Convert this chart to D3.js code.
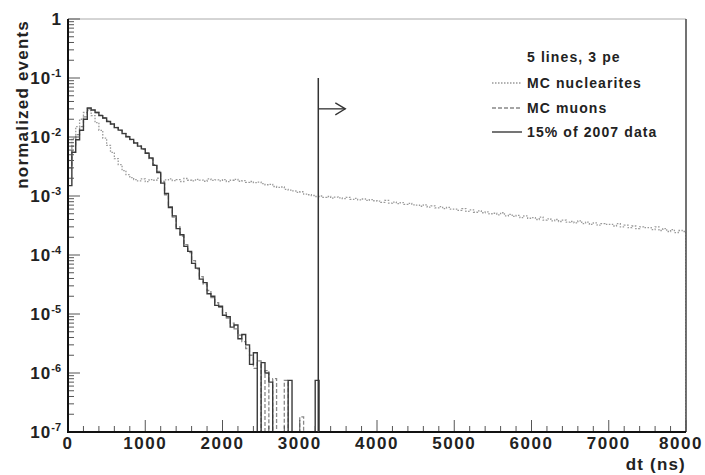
<!DOCTYPE html>
<html lang="en">
  <head>
    <meta charset="utf-8">
    <title>dt distribution</title>
    <script src="https://d3js.org/d3.v7.min.js"></script>
    <style>
      body { margin: 0; background: #fff; }
      text { font-family: "Liberation Sans", Arial, sans-serif; fill: #222; }
    </style>
  </head>
  <body>
    <script type="text/javascript">
    // histogram binning (ns)
    var binWidth = 50;
    var xDomain = [0, 8000];
    var yDomain = [1e-7, 1];

    // MC nuclearites, 160 bins of 50 ns
    var nuclearites = [
      4.0e-3, 9.5e-3, 1.5e-2, 2.0e-2, 2.6e-2, 2.8e-2, 2.3e-2, 1.75e-2, 1.3e-2, 9.6e-3,
      7.2e-3, 5.5e-3, 4.3e-3, 3.4e-3, 2.7e-3, 2.3e-3, 2.05e-3, 1.9e-3,
      1.80e-3, 1.95e-3, 1.75e-3, 1.90e-3, 1.85e-3, 2.00e-3, 1.78e-3, 1.88e-3, 1.95e-3, 1.82e-3,
      1.90e-3, 1.76e-3, 1.98e-3, 1.85e-3, 1.80e-3, 1.92e-3, 1.86e-3, 1.78e-3, 1.95e-3, 1.84e-3,
      1.88e-3, 1.80e-3, 1.90e-3, 1.75e-3, 1.85e-3, 1.92e-3, 1.78e-3, 1.82e-3, 1.70e-3, 1.76e-3,
      1.68e-3, 1.72e-3,
      1.62e-3, 1.55e-3, 1.58e-3, 1.45e-3, 1.40e-3, 1.42e-3, 1.30e-3, 1.26e-3, 1.22e-3, 1.15e-3,
      1.18e-3, 1.08e-3, 1.05e-3, 1.02e-3, 0.98e-3,
      1.00e-3, 0.95e-3, 0.98e-3, 0.92e-3, 0.96e-3,
      9.3e-4, 9.0e-4, 9.5e-4, 8.8e-4, 9.1e-4, 8.6e-4, 8.9e-4, 8.4e-4, 8.7e-4, 8.3e-4,
      8.2e-4, 7.8e-4, 8.4e-4, 7.6e-4, 7.9e-4, 7.4e-4, 7.7e-4, 7.2e-4, 7.5e-4, 7.1e-4,
      7.0e-4, 6.7e-4, 7.1e-4, 6.5e-4, 6.8e-4, 6.3e-4, 6.6e-4, 6.1e-4, 6.4e-4, 6.0e-4,
      6.0e-4, 5.7e-4, 6.1e-4, 5.5e-4, 5.8e-4, 5.3e-4, 5.6e-4, 5.2e-4, 5.4e-4, 5.0e-4,
      5.1e-4, 4.8e-4, 5.2e-4, 4.6e-4, 4.9e-4, 4.5e-4, 4.7e-4, 4.3e-4, 4.6e-4, 4.2e-4,
      4.3e-4, 4.0e-4, 4.4e-4, 3.9e-4, 4.1e-4, 3.8e-4, 4.0e-4, 3.7e-4, 3.9e-4, 3.6e-4,
      3.7e-4, 3.5e-4, 3.8e-4, 3.4e-4, 3.6e-4, 3.3e-4, 3.5e-4, 3.2e-4, 3.4e-4, 3.3e-4,
      3.3e-4, 3.1e-4, 3.4e-4, 3.0e-4, 3.2e-4, 2.9e-4, 3.1e-4, 2.8e-4, 3.0e-4, 2.9e-4,
      2.9e-4, 2.7e-4, 3.0e-4, 2.6e-4, 2.8e-4, 2.5e-4, 2.7e-4, 2.4e-4, 2.6e-4, 2.5e-4
    ];

    // MC muons, bins of 50 ns starting at 0 (empty bins = 0)
    var muons = [
      3.0e-3, 7.0e-3, 1.1e-2, 1.5e-2, 2.2e-2, 3.0e-2, 2.9e-2, 2.6e-2, 2.35e-2, 2.1e-2,
      1.85e-2, 1.65e-2, 1.45e-2, 1.3e-2, 1.15e-2, 1.02e-2, 9.0e-3, 8.0e-3, 7.1e-3, 6.2e-3,
      5.4e-3, 4.3e-3, 3.4e-3, 2.6e-3, 1.7e-3, 1.05e-3, 6.6e-4, 4.4e-4, 3.0e-4, 2.1e-4,
      1.5e-4, 1.1e-4, 8.0e-5, 5.8e-5, 4.3e-5, 3.2e-5, 2.5e-5, 1.9e-5, 1.55e-5, 1.3e-5,
      1.05e-5, 8.5e-6, 7.0e-6, 5.6e-6, 4.4e-6, 3.4e-6, 2.6e-6, 2.0e-6, 1.2e-6, 1.6e-6,
      0, 1.1e-6, 0, 8e-7, 0, 0, 7.5e-7, 0, 0, 0,
      1.8e-7
    ];

    // 15% of 2007 data
    var data2007 = [
      1.5e-3, 5.5e-3, 9.0e-3, 1.3e-2, 2.0e-2, 3.1e-2, 2.85e-2, 2.6e-2, 2.3e-2, 2.1e-2,
      1.83e-2, 1.66e-2, 1.44e-2, 1.31e-2, 1.14e-2, 1.01e-2, 9.1e-3, 7.9e-3, 7.0e-3, 6.3e-3,
      5.3e-3, 4.4e-3, 3.3e-3, 2.5e-3, 1.65e-3, 1.1e-3, 6.4e-4, 4.6e-4, 2.8e-4, 2.2e-4,
      1.4e-4, 1.15e-4, 7.2e-5, 6.0e-5, 3.9e-5, 3.4e-5, 2.2e-5, 2.0e-5, 1.4e-5, 1.35e-5,
      9.5e-6, 9.0e-6, 6.0e-6, 6.5e-6, 3.8e-6, 4.5e-6, 3.0e-6, 1.4e-6, 2.2e-6, 0,
      1.5e-6, 1.0e-6, 7e-7, 0, 0, 0, 0, 7.5e-7, 0, 0,
      0, 0, 0, 0, 7.5e-7
    ];

    var xTicks = [0, 1000, 2000, 3000, 4000, 5000, 6000, 7000, 8000];
    var yTickExp = [0, -1, -2, -3, -4, -5, -6, -7];

    var legendTitle = "5 lines, 3 pe";
    var legendLabels = ["MC nuclearites", "MC muons", "15% of 2007 data"];

    // cut: dt > 3240 ns
    var cutValue = 3240;
    var cutTop = 0.1;
    var arrowLevel = 0.03;
    var arrowLength = 350;

    var w = 705, h = 475;
    var padL = 68, padR = 686, padT = 19, padB = 432;

    var svg = d3.select("body").append("svg")
                .attr("width", w)
                .attr("height", h);

    var xScale = d3.scaleLinear().domain(xDomain).range([padL, padR]);
    var yScale = d3.scaleLog().domain(yDomain).range([padB, padT]).clamp(true);

    function yOf(v) { return v > 0 ? yScale(v) : padB; }

    // step outline like a ROOT histogram
    function histPath(values) {
      var pts = values.map(function(v, i) { return [i * binWidth, v]; });
      pts.push([values.length * binWidth, values[values.length - 1]]);
      var line = d3.line()
                   .curve(d3.curveStepAfter)
                   .x(function(d) { return xScale(d[0]); })
                   .y(function(d) { return yOf(d[1]); });
      return line(pts) + "V" + padB;
    }

    var series = [
      { values: nuclearites, stroke: "#999", width: 1.3, dash: "1.5,1.5" },
      { values: muons, stroke: "#888", width: 1.3, dash: "4,2" },
      { values: data2007, stroke: "#3a3a3a", width: 1.4, dash: null }
    ];

    svg.append("clipPath").attr("id", "clip")
       .append("rect").attr("x", padL).attr("y", padT)
       .attr("width", padR - padL).attr("height", padB - padT);

    svg.selectAll("path.hist")
       .data(series)
       .enter()
       .append("path")
       .attr("class", "hist")
       .attr("clip-path", "url(#clip)")
       .attr("d", function(d) { return histPath(d.values); })
       .attr("fill", "none")
       .attr("stroke", function(d) { return d.stroke; })
       .attr("stroke-width", function(d) { return d.width; })
       .attr("stroke-dasharray", function(d) { return d.dash; });

    // frame
    svg.append("line").attr("x1", padL).attr("x2", padR).attr("y1", padT).attr("y2", padT)
       .attr("stroke", "#aaa").attr("stroke-width", 1);
    svg.append("line").attr("x1", padR).attr("x2", padR).attr("y1", padT).attr("y2", padB)
       .attr("stroke", "#444").attr("stroke-width", 1.5);

    // x axis ticks (inside, pointing up)
    var xMinor = d3.range(xDomain[0], xDomain[1] + 1, 200);
    svg.selectAll("line.xtick")
       .data(xMinor)
       .enter()
       .append("line")
       .attr("class", "xtick")
       .attr("x1", function(d) { return xScale(d); })
       .attr("x2", function(d) { return xScale(d); })
       .attr("y1", padB)
       .attr("y2", function(d) { return padB - (d % 1000 === 0 ? 12 : 6); })
       .attr("stroke", "#555")
       .attr("stroke-width", 1);

    svg.selectAll("text.xlab")
       .data(xTicks)
       .enter()
       .append("text")
       .attr("class", "xlab")
       .attr("x", function(d) { return Math.min(xScale(d), 681); })
       .attr("y", 449)
       .attr("text-anchor", "middle")
       .attr("font-size", "17px")
       .attr("font-weight", "bold")
       .attr("letter-spacing", "1.5")
       .text(function(d) { return d; });

    // y axis log ticks
    var yMinor = [];
    yTickExp.forEach(function(e) {
      if (e === 0) return;
      for (var k = 1; k < 10; k++) yMinor.push(k * Math.pow(10, e));
    });
    yMinor.push(1);
    svg.selectAll("line.ytick")
       .data(yMinor)
       .enter()
       .append("line")
       .attr("class", "ytick")
       .attr("x1", padL)
       .attr("x2", function(d) {
         var m = Math.abs(Math.log10(d) - Math.round(Math.log10(d))) < 1e-6;
         return padL + (m ? 12 : 6);
       })
       .attr("y1", function(d) { return yScale(d); })
       .attr("y2", function(d) { return yScale(d); })
       .attr("stroke", "#555")
       .attr("stroke-width", 1);

    var ylab = svg.selectAll("text.ylab")
       .data(yTickExp)
       .enter()
       .append("text")
       .attr("class", "ylab")
       .attr("x", 61)
       .attr("y", function(d) { return yScale(Math.pow(10, d)) + 6; })
       .attr("text-anchor", "end")
       .attr("font-size", "17px")
       .attr("font-weight", "bold");
    ylab.each(function(d) {
      var t = d3.select(this);
      if (d === 0) { t.text("1"); return; }
      t.append("tspan").attr("letter-spacing", "1").text("10");
      t.append("tspan").attr("dy", -7).attr("font-size", "11px").text(String(d));
    });

    // axis lines
    svg.append("line").attr("x1", padL).attr("x2", padL).attr("y1", padT).attr("y2", padB + 1)
       .attr("stroke", "#111").attr("stroke-width", 2);
    svg.append("line").attr("x1", padL - 1).attr("x2", padR).attr("y1", padB).attr("y2", padB)
       .attr("stroke", "#111").attr("stroke-width", 2);

    // titles
    svg.append("text")
       .attr("transform", "translate(28,20) rotate(-90)")
       .attr("text-anchor", "end")
       .attr("font-size", "17px")
       .attr("font-weight", "bold")
       .attr("letter-spacing", "1.2")
       .text("normalized events");
    svg.append("text")
       .attr("x", padR)
       .attr("y", 470)
       .attr("text-anchor", "end")
       .attr("font-size", "17px")
       .attr("font-weight", "bold")
       .attr("letter-spacing", "1.2")
       .text("dt (ns)");

    // cut line and arrow
    var cx = xScale(cutValue), ay = yScale(arrowLevel), ax = xScale(cutValue + arrowLength);
    svg.append("line").attr("x1", cx).attr("x2", cx).attr("y1", yScale(cutTop)).attr("y2", padB)
       .attr("stroke", "#333").attr("stroke-width", 1.5);
    svg.append("line").attr("x1", cx).attr("x2", ax).attr("y1", ay).attr("y2", ay)
       .attr("stroke", "#333").attr("stroke-width", 1.3);
    svg.append("path")
       .attr("d", "M" + (ax - 10) + "," + (ay - 6) + "L" + ax + "," + ay + "L" + (ax - 10) + "," + (ay + 6))
       .attr("fill", "none").attr("stroke", "#333").attr("stroke-width", 1.3);

    // legend
    var legY = [83, 108, 132];
    svg.append("text").attr("x", 527).attr("y", 62)
       .attr("font-size", "14px").attr("font-weight", "bold").attr("fill", "#333")
       .attr("letter-spacing", "1.1")
       .text(legendTitle);
    var leg = svg.selectAll("g.leg")
       .data(legendLabels)
       .enter()
       .append("g")
       .attr("class", "leg")
       .attr("transform", function(d, i) { return "translate(0," + legY[i] + ")"; });
    leg.append("line")
       .attr("x1", 492).attr("x2", 522).attr("y1", 0).attr("y2", 0)
       .attr("stroke", function(d, i) { return series[i].stroke; })
       .attr("stroke-width", function(d, i) { return series[i].width; })
       .attr("stroke-dasharray", function(d, i) { return series[i].dash; });
    leg.append("text")
       .attr("x", 527).attr("y", 5)
       .attr("font-size", "14px").attr("font-weight", "bold").attr("fill", "#333")
       .attr("letter-spacing", "1.1")
       .text(function(d) { return d; });
    </script>
  </body>
</html>
